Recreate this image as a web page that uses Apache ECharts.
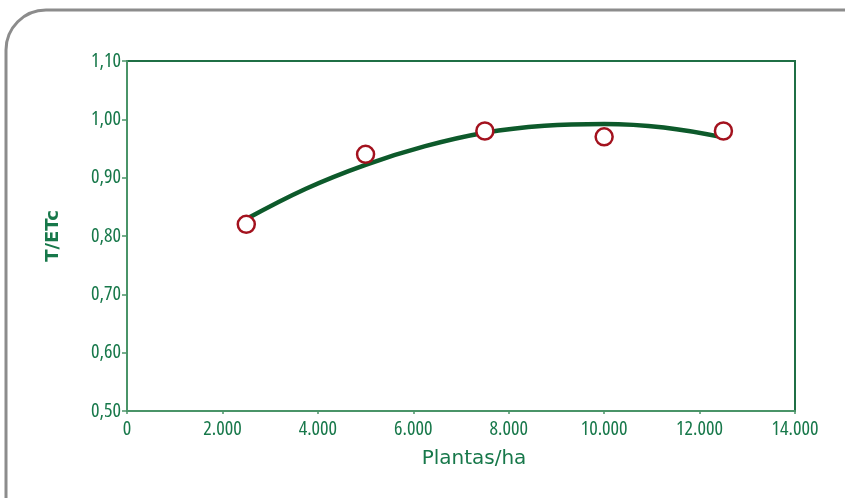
<!DOCTYPE html>
<html>
<head>
<meta charset="utf-8">
<script src="https://cdn.jsdelivr.net/npm/echarts@6/dist/echarts.min.js"></script>
<style>
html,body{margin:0;padding:0;background:#fff;}
#c{width:845px;height:498px;}
</style>
</head>
<body>
<div id="c"></div>
<script>
// Observed points (Plantas/ha, T/ETc)
const plantas = [2500, 5000, 7500, 10000, 12500];
const tEtc = [0.82, 0.94, 0.98, 0.97, 0.98];
// Trend curve
const curveX = [2500, 3750, 5000, 6250, 7500, 8750, 10000, 11250, 12500];
const curveY = [0.829, 0.881, 0.922, 0.954, 0.977, 0.989, 0.992, 0.986, 0.969];
// Axis ticks
const xTicks = [0, 2000, 4000, 6000, 8000, 10000, 12000, 14000];
const yTicks = [0.5, 0.6, 0.7, 0.8, 0.9, 1.0, 1.1];

const green = '#17784a';
const labelFont = '"Open Sans",sans-serif';

const chart = echarts.init(document.getElementById('c'), null, {renderer: 'canvas'});
chart.setOption({
  animation: false,
  backgroundColor: '#fff',
  graphic: [{
    type: 'rect',
    shape: {x: 6, y: 10, width: 880, height: 530, r: 40},
    style: {fill: 'none', stroke: '#8c8c8c', lineWidth: 3},
    z: -1
  }],
  grid: {
    left: 127, right: 50, top: 61, bottom: 87,
    show: true, borderColor: '#1f6f45', borderWidth: 2, backgroundColor: 'transparent'
  },
  xAxis: {
    type: 'value',
    min: xTicks[0], max: xTicks[xTicks.length - 1], interval: 2000,
    name: 'Plantas/ha', nameLocation: 'middle', nameGap: 38,
    nameTextStyle: {color: green, fontFamily: '"DejaVu Sans",sans-serif', fontSize: 20, padding: [0, 0, 0, 26]},
    axisLine: {show: true, lineStyle: {color: '#4a9468', width: 2}},
    axisTick: {show: true, length: 3, lineStyle: {color: '#4a9468', width: 1.5}},
    splitLine: {show: false},
    axisLabel: {
      color: green, fontFamily: labelFont, fontStyle: 'condensed', fontWeight: 500, fontSize: 20, margin: 8,
      formatter: v => v === 0 ? '0' : v.toLocaleString('de-DE')
    }
  },
  yAxis: {
    type: 'value',
    min: yTicks[0], max: yTicks[yTicks.length - 1], interval: 0.1,
    name: 'T/ETc', nameLocation: 'middle', nameGap: 65, nameRotate: 90,
    nameTextStyle: {color: green, fontFamily: '"DejaVu Sans",sans-serif', fontSize: 18, fontWeight: 'bold'},
    axisLine: {show: true, lineStyle: {color: '#4a9468', width: 2}},
    axisTick: {show: true, length: 5, lineStyle: {color: '#4a9468', width: 1.5}},
    splitLine: {show: false},
    axisLabel: {
      color: green, fontFamily: labelFont, fontStyle: 'condensed', fontWeight: 500, fontSize: 20, margin: 6,
      formatter: v => v.toFixed(2).replace('.', ',')
    }
  },
  series: [{
    type: 'line',
    data: curveX.map((x, i) => [x, curveY[i]]),
    smooth: 0.4,
    showSymbol: false,
    lineStyle: {color: '#0d5a2b', width: 4.5},
    z: 2
  }, {
    type: 'scatter',
    data: plantas.map((x, i) => [x, tEtc[i]]),
    symbol: 'circle',
    symbolSize: 17,
    itemStyle: {color: '#ffffff', borderColor: '#a3121e', borderWidth: 2.5, opacity: 1},
    z: 3
  }]
});
</script>
</body>
</html>
